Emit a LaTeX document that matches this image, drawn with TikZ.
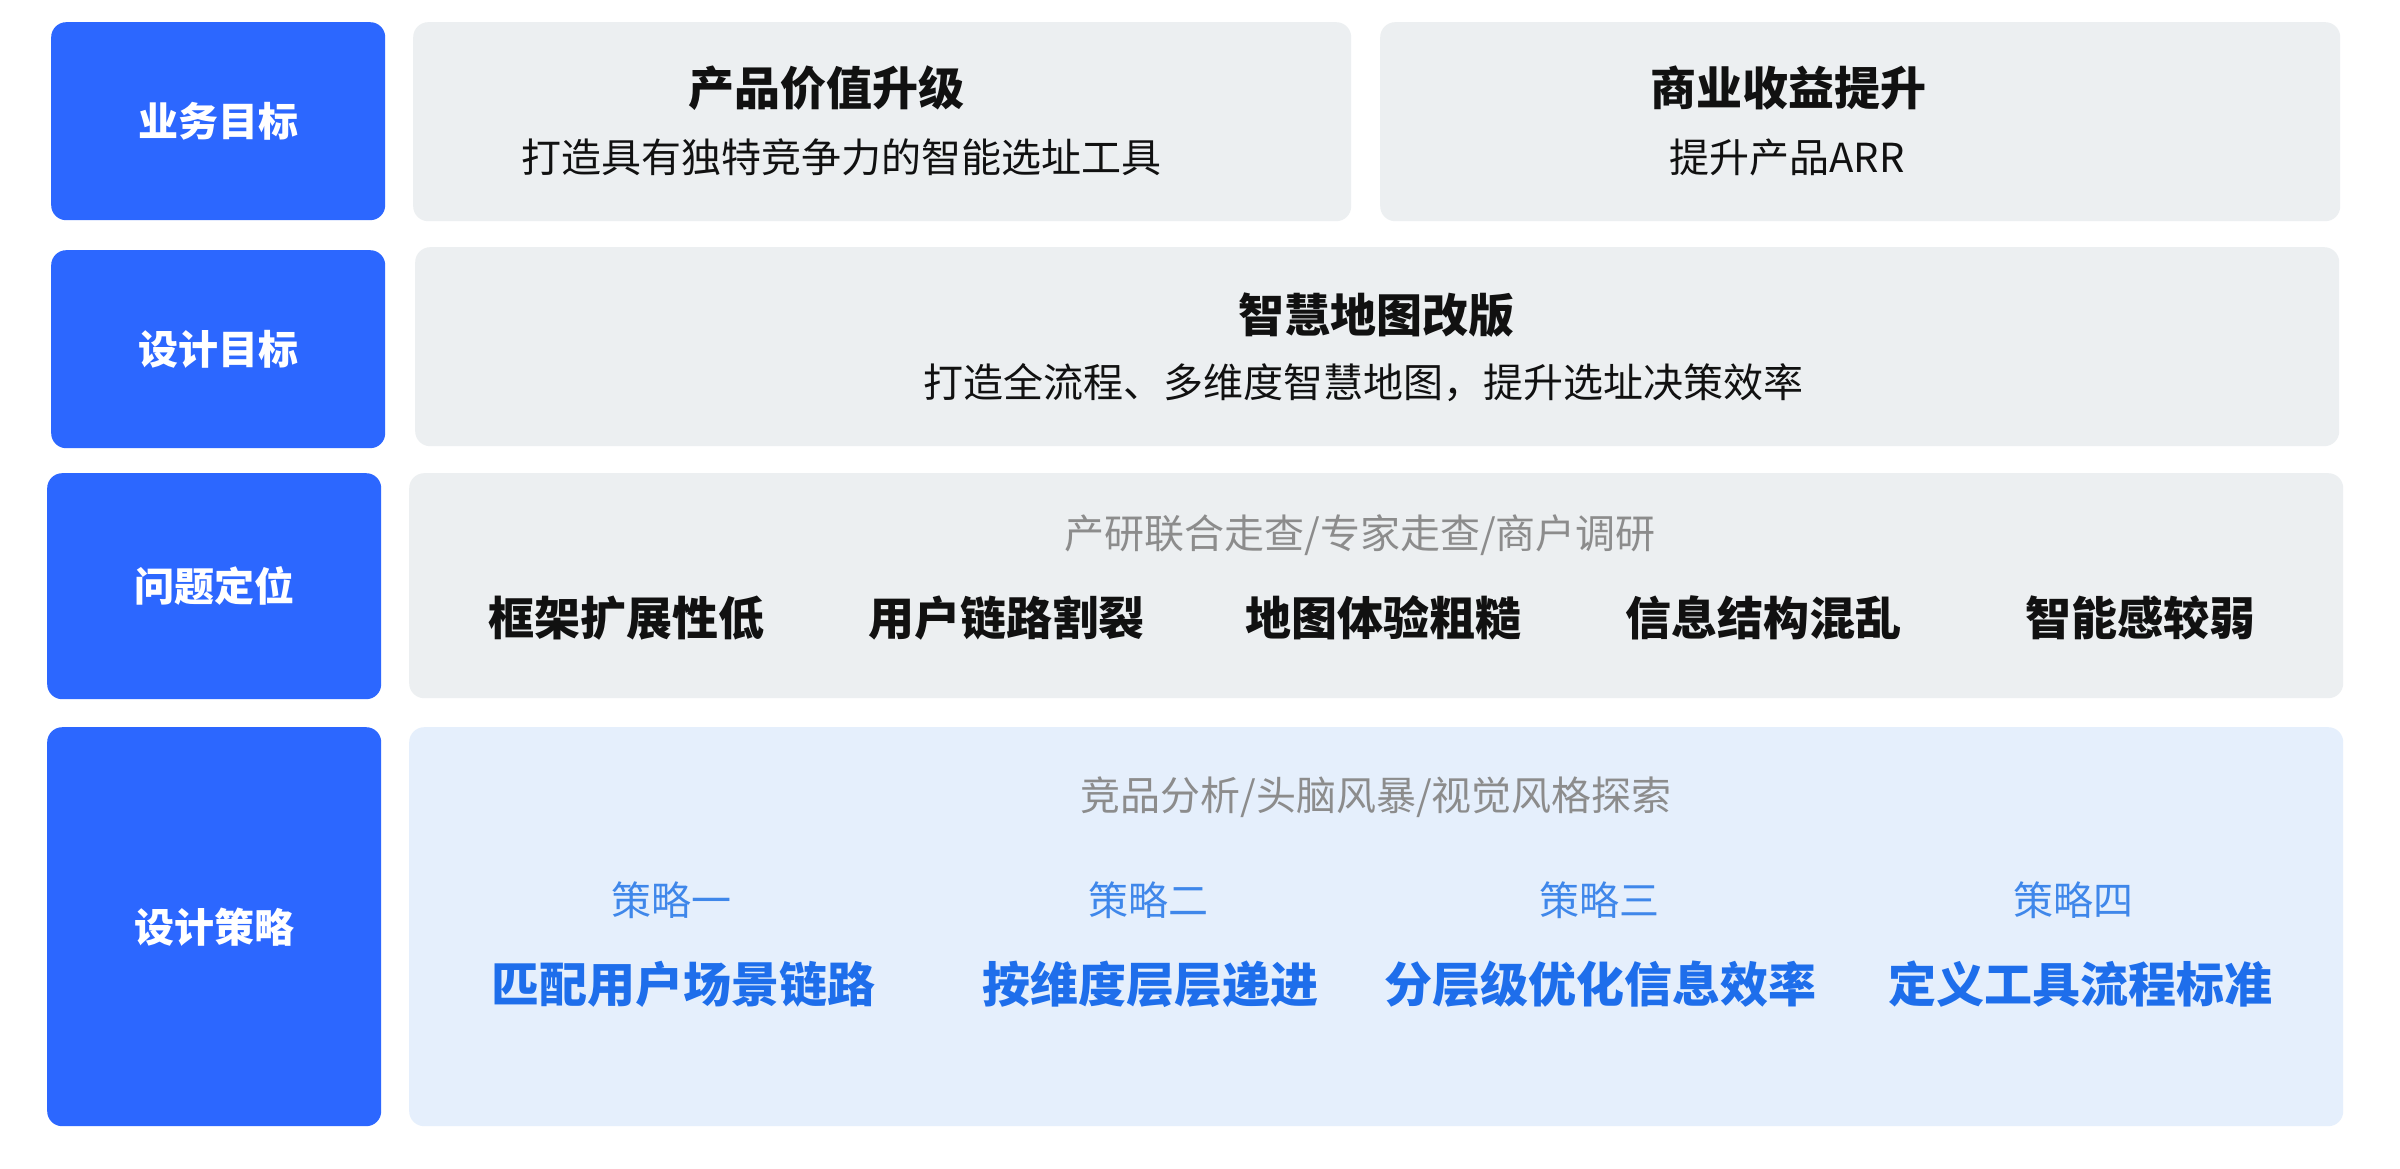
\documentclass[tikz,border=0pt]{standalone}
\usepackage{fontspec}
\setmainfont{Noto Sans CJK SC}
\definecolor{tagblue}{HTML}{2C67FF}
\definecolor{cardgray}{HTML}{ECEFF1}
\definecolor{cardblue}{HTML}{E5EFFC}
\definecolor{strongblue}{HTML}{1E6EEB}
\definecolor{softblue}{HTML}{3F87EA}
\definecolor{hintgray}{HTML}{8C8C8C}
\definecolor{ink}{HTML}{111111}
\tikzset{
  lab/.style={fill=tagblue, rounded corners=15pt, text=white, inner sep=0pt, anchor=north west,
    font=\fontsize{40}{48}\selectfont\bfseries},
  card/.style={fill=cardgray, rounded corners=15pt, inner sep=0pt, anchor=north west},
  cardb/.style={card, fill=cardblue},
  ttl/.style={text=ink, inner sep=0pt, font=\fontsize{46}{54}\selectfont\bfseries},
  sub/.style={text=ink, inner sep=0pt, font=\fontsize{40}{48}\selectfont},
  hint/.style={text=hintgray, inner sep=0pt, font=\fontsize{40}{48}\selectfont},
  item/.style={text=ink, inner sep=0pt, font=\fontsize{46}{54}\selectfont\bfseries},
  stag/.style={text=softblue, inner sep=0pt, font=\fontsize{40}{48}\selectfont},
  strat/.style={text=strongblue, inner sep=0pt, font=\fontsize{48}{56}\selectfont\bfseries}
}
\begin{document}
\begin{tikzpicture}[x=1pt,y=-1pt]
\useasboundingbox[fill=white] (0,0) rectangle (2400,1169);
% left labels
\node[lab, minimum width=334pt, minimum height=198pt] (b1) at (51,22) {业务目标};
\node[lab, minimum width=334pt, minimum height=198pt] (b2) at (51,250) {设计目标};
\node[lab, minimum width=334pt, minimum height=226pt] (b3) at (47,473) {问题定位};
\node[lab, minimum width=334pt, minimum height=399pt] (b4) at (47,727) {设计策略};
% cards
\node[card, minimum width=938pt, minimum height=199pt] (g1a) at (413,22) {};
\node[card, minimum width=960pt, minimum height=199pt] (g1b) at (1380,22) {};
\node[card, minimum width=1924pt, minimum height=199pt] (g2) at (415,247) {};
\node[card, minimum width=1934pt, minimum height=225pt] (g3) at (409,473) {};
\node[cardb, minimum width=1934pt, minimum height=399pt] (g4) at (409,727) {};
% row 1
\node[ttl] (t1a) at (826,88) {产品价值升级};
\node[sub] (s1a) at (841,157) {打造具有独特竞争力的智能选址工具};
\node[ttl] (t1b) at (1788,88) {商业收益提升};
\node[sub] (s1b) at (1787,157) {提升产品ARR};
% row 2
\node[ttl] (t2) at (1376,315) {智慧地图改版};
\node[sub] (s2) at (1363,383) {打造全流程、多维度智慧地图，提升选址决策效率};
% row 3
\node[hint] (h3) at (1360,535) {产研联合走查/专家走查/商户调研};
\node[item] (p1) at (626,618) {框架扩展性低};
\node[item] (p2) at (1006,618) {用户链路割裂};
\node[item] (p3) at (1383,618) {地图体验粗糙};
\node[item] (p4) at (1763,618) {信息结构混乱};
\node[item] (p5) at (2140,618) {智能感较弱};
% row 4
\node[hint] (h4) at (1376,797) {竞品分析/头脑风暴/视觉风格探索};
\node[stag] (k1) at (671,900) {策略一};
\node[stag] (k2) at (1148,900) {策略二};
\node[stag] (k3) at (1599,900) {策略三};
\node[stag] (k4) at (2073,900) {策略四};
\node[strat] (r1) at (683,984) {匹配用户场景链路};
\node[strat] (r2) at (1150,984) {按维度层层递进};
\node[strat] (r3) at (1600,984) {分层级优化信息效率};
\node[strat] (r4) at (2080,984) {定义工具流程标准};
\end{tikzpicture}
\end{document}
